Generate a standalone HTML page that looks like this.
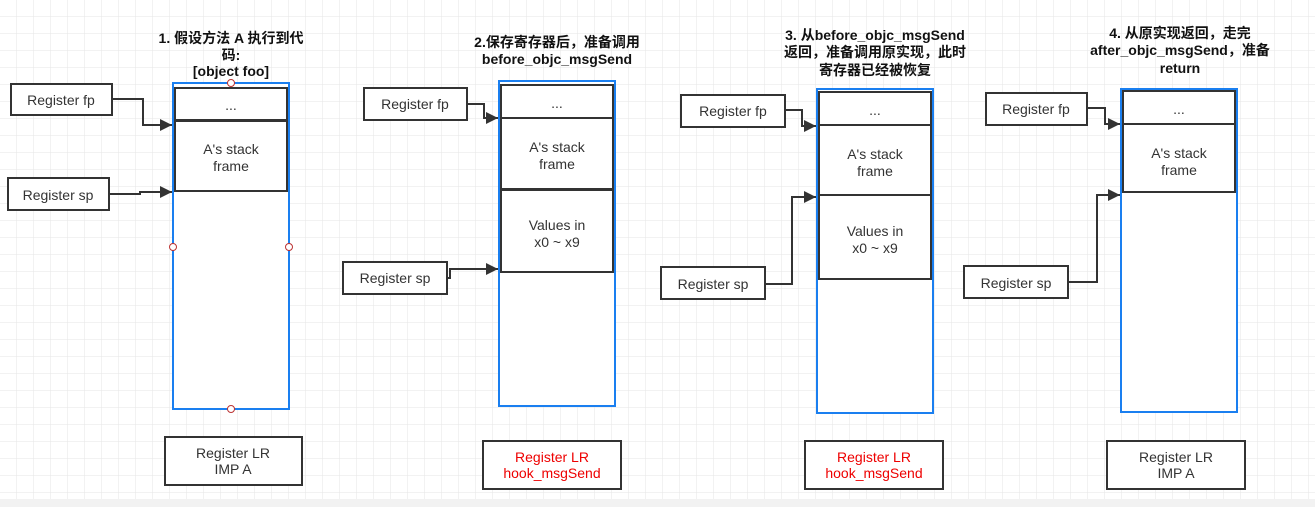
<!DOCTYPE html>
<html><head><meta charset="utf-8"><style>
html,body{margin:0;padding:0;background:#fff;}
svg{display:block;}
text{font-family:"Liberation Sans","Noto Sans CJK SC",sans-serif;font-size:14px;fill:#333;}
.t{font-weight:bold;fill:#111;font-size:14px;}
</style></head><body>
<svg width="1315" height="507" viewBox="0 0 1315 507" xmlns="http://www.w3.org/2000/svg">
<defs>
<pattern id="g" width="17" height="17" patternUnits="userSpaceOnUse" x="0" y="0">
<path d="M17 0V17M0 17H17" stroke="#e6e6e6" stroke-width="1" fill="none"/>
</pattern>
<marker id="a" viewBox="0 0 10 10" refX="10" refY="5" markerWidth="18" markerHeight="12" markerUnits="userSpaceOnUse" orient="auto"><path d="M0 0L10 5L0 10Z" fill="#333"/></marker>
</defs>
<rect width="1315" height="499" fill="url(#g)"/>
<rect y="499" width="1315" height="8" fill="#f2f2f2"/>
<g fill="#fff" stroke="#333" stroke-width="2">
<rect x="173" y="83" width="116" height="326" stroke="#1a7ff0"/>
<rect x="175" y="88" width="112" height="32"/>
<rect x="175" y="121" width="112" height="70"/>
<rect x="11" y="84" width="101" height="31"/>
<rect x="8" y="178" width="101" height="32"/>
<rect x="165" y="437" width="137" height="48"/>
<rect x="499" y="81" width="116" height="325" stroke="#1a7ff0"/>
<rect x="501" y="85" width="112" height="33"/>
<rect x="501" y="118" width="112" height="71"/>
<rect x="501" y="190" width="112" height="82"/>
<rect x="364" y="88" width="103" height="32"/>
<rect x="343" y="262" width="104" height="32"/>
<rect x="483" y="441" width="138" height="48"/>
<rect x="817" y="89" width="116" height="324" stroke="#1a7ff0"/>
<rect x="819" y="92" width="112" height="33"/>
<rect x="819" y="125" width="112" height="70"/>
<rect x="819" y="195" width="112" height="84"/>
<rect x="681" y="95" width="104" height="32"/>
<rect x="661" y="267" width="104" height="32"/>
<rect x="805" y="441" width="138" height="48"/>
<rect x="1121" y="89" width="116" height="323" stroke="#1a7ff0"/>
<rect x="1123" y="91" width="112" height="33"/>
<rect x="1123" y="124" width="112" height="68"/>
<rect x="986" y="93" width="101" height="32"/>
<rect x="964" y="266" width="104" height="32"/>
<rect x="1107" y="441" width="138" height="48"/>
</g>
<g fill="#fff" stroke="#b33" stroke-width="1">
<circle cx="231" cy="83" r="3.5"/><circle cx="173" cy="247" r="3.5"/><circle cx="289" cy="247" r="3.5"/><circle cx="231" cy="409" r="3.5"/>
</g>
<g fill="none" stroke="#333" stroke-width="2" marker-end="url(#a)">
<path d="M112 99H143V125H172"/>
<path d="M109 194H140V192H172"/>
<path d="M467 104H484V118H498"/>
<path d="M447 278H450V269H498"/>
<path d="M785 110H802V126H816"/>
<path d="M765 284H792V197H816"/>
<path d="M1087 108H1105V124H1120"/>
<path d="M1068 282H1097V195H1120"/>
</g>
<g text-anchor="middle">
<text class="t" x="231" y="43">1. 假设方法 A 执行到代</text>
<text class="t" x="231" y="60">码:</text>
<text class="t" x="231" y="76">[object foo]</text>
<text x="231" y="110">...</text>
<text x="231" y="154">A's stack</text><text x="231" y="171">frame</text>
<text x="61" y="105">Register fp</text>
<text x="58" y="200">Register sp</text>
<text x="233" y="458">Register LR</text><text x="233" y="474">IMP A</text>

<text class="t" x="557" y="47">2.保存寄存器后，准备调用</text>
<text class="t" x="557" y="64">before_objc_msgSend</text>
<text x="557" y="108">...</text>
<text x="557" y="152">A's stack</text><text x="557" y="169">frame</text>
<text x="557" y="230">Values in</text><text x="557" y="247">x0 ~ x9</text>
<text x="415" y="109">Register fp</text>
<text x="395" y="283">Register sp</text>
<text x="552" y="462" style="fill:#e00">Register LR</text><text x="552" y="478" style="fill:#e00">hook_msgSend</text>

<text class="t" x="875" y="40">3. 从before_objc_msgSend</text>
<text class="t" x="875" y="57">返回，准备调用原实现，此时</text>
<text class="t" x="875" y="75">寄存器已经被恢复</text>
<text x="875" y="115">...</text>
<text x="875" y="159">A's stack</text><text x="875" y="176">frame</text>
<text x="875" y="236">Values in</text><text x="875" y="253">x0 ~ x9</text>
<text x="733" y="116">Register fp</text>
<text x="713" y="289">Register sp</text>
<text x="874" y="462" style="fill:#e00">Register LR</text><text x="874" y="478" style="fill:#e00">hook_msgSend</text>

<text class="t" x="1180" y="38">4. 从原实现返回，走完</text>
<text class="t" x="1180" y="55">after_objc_msgSend，准备</text>
<text class="t" x="1180" y="73">return</text>
<text x="1179" y="114">...</text>
<text x="1179" y="158">A's stack</text><text x="1179" y="175">frame</text>
<text x="1036" y="114">Register fp</text>
<text x="1016" y="288">Register sp</text>
<text x="1176" y="462">Register LR</text><text x="1176" y="478">IMP A</text>
</g>
</svg>
</body></html>
